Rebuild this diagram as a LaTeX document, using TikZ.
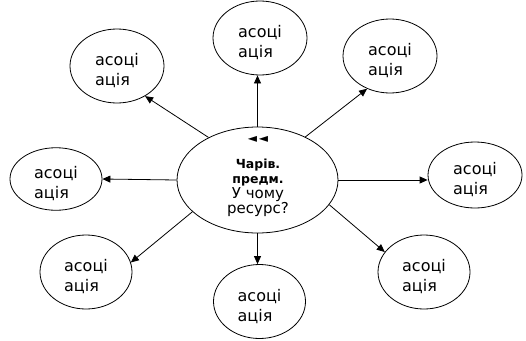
\documentclass[tikz,border=0pt]{standalone}
\usepackage{fontspec}
\setmainfont{DejaVu Sans}
\usetikzlibrary{shapes.geometric,arrows.meta}
\newcommand{\assocstrut}{\rule{0pt}{22pt}}

\begin{document}
\begin{tikzpicture}[x=1pt,y=-1pt,
    assoc/.style={draw,ellipse,line width=0.8pt,inner sep=0pt,
        minimum width=94pt,minimum height=74pt,align=left,
        font=\fontsize{16}{20}\selectfont},
    hub/.style={draw,ellipse,line width=0.8pt,inner sep=0pt,
        minimum width=161pt,minimum height=106pt},
    link/.style={line width=0.8pt,-{Triangle[length=8pt,width=7pt]}}]
    \useasboundingbox (0,0) rectangle (526,340);
    % Draw the central ellipse
    \node [hub] (c) at (257.5,180) {};
    \node [align=center,font=\fontsize{15}{15}\selectfont] (ctext) at (258,177)
        {{\fontsize{12}{12}\selectfont ◄\,◄}\\[11pt]
         {\bfseries\fontsize{12.5}{15}\selectfont Чарів.}\\
         {\bfseries\fontsize{12.5}{15}\selectfont предм.}\\
         У чому\\
         ресурс?};

    % Draw the associations round it
    \node [assoc] (tl) at (117,66) {\assocstrut асоці\\ація};
    \node [assoc] (t) at (260,38) {\assocstrut асоці\\ація};
    \node [assoc] (tr) at (390,56) {\assocstrut асоці\\ація};
    \node [assoc,minimum width=92pt,minimum height=62pt] (l) at (56,179) {\assocstrut асоці\\ація};
    \node [assoc,minimum height=66pt] (r) at (475,175) {\assocstrut асоці\\ація};
    \node [assoc,minimum width=92pt] (bl) at (86,272) {\assocstrut асоці\\ація};
    \node [assoc,minimum width=92pt] (b) at (259.5,301.5) {\assocstrut асоці\\ація};
    \node [assoc,minimum width=92pt] (br) at (424,272) {\assocstrut асоці\\ація};

    % Draw the arrows
    \draw [link] (c.139) -- (tl.-47);
    \draw [link] (c.north) -- (c.north |- t.south);
    \draw [link] (c.42) -- (tr.-125);
    \draw [link] (c.west) -- (l.east);
    \draw [link] (c.east) -- (c.east -| r.west);
    \draw [link] (c.206) -- (bl.12);
    \draw [link] (c.south) -- (c.south |- b.north);
    \draw [link] (c.-19) -- (br.153);

\end{tikzpicture}
\end{document}
